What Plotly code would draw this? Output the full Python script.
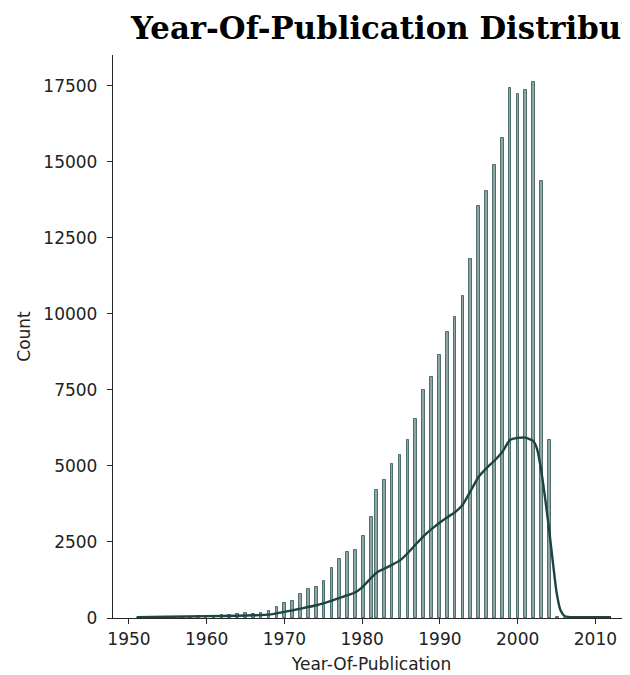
import plotly.graph_objects as go

# ---- data ----
years = list(range(1951, 2013))
counts = [13, 11, 15, 17, 22, 26, 29, 37, 60, 75, 70, 85, 100, 140, 150, 140, 160, 230,
          373, 505, 560, 790, 966, 1032, 1220, 1635, 1932, 2175, 2240, 2712,
          3316, 4199, 4521, 5068, 5343, 5842, 6529, 7492, 7937, 8660, 9389, 9906,
          10602, 11796, 13546, 14030, 14890, 15766, 17431, 17234, 17359, 17628, 14359, 5839,
          46, 3, 0, 1, 0, 2, 2, 1]
n_bins = 181  # histogram bin count over the data range

kde_years = [1951, 1955, 1960, 1964, 1966, 1968, 1970, 1972, 1974, 1976, 1978, 1979, 1980,
             1981, 1982, 1983, 1984, 1985, 1986, 1987, 1988, 1989, 1990, 1991, 1992, 1993,
             1994, 1995, 1996, 1997, 1998, 1999, 2000, 2001, 2002, 2002.5, 2003, 2003.5,
             2004, 2004.5, 2005, 2005.5, 2006, 2006.5, 2007, 2012]
kde_counts = [30, 40, 60, 75, 90, 110, 200, 305, 410, 560, 740, 830, 1010,
              1280, 1520, 1640, 1770, 1920, 2170, 2450, 2720, 2940, 3140, 3320, 3490, 3750,
              4200, 4650, 4930, 5170, 5450, 5850, 5920, 5930, 5820, 5550, 4900, 4000,
              3000, 1900, 850, 260, 70, 35, 25, 25]

y_ticks = [0, 2500, 5000, 7500, 10000, 12500, 15000, 17500]
x_ticks = [1950, 1960, 1970, 1980, 1990, 2000, 2010]

# ---- histogram binning (like numpy bins over [min, max]) ----
present = [y for y, c in zip(years, counts) if c > 0]
lo, hi = min(present), max(present)
bw = (hi - lo) / n_bins
bin_x, bin_y = [], []
for y, c in zip(years, counts):
    if c <= 0:
        continue
    k = min(((y - lo) * n_bins) // (hi - lo), n_bins - 1)
    bin_x.append(lo + (k + 0.5) * bw)
    bin_y.append(c)

BASE = "31,74,71"
fig = go.Figure()
fig.add_trace(go.Bar(
    x=bin_x, y=bin_y, width=bw,
    marker=dict(color=f"rgba({BASE},0.5)", line=dict(color=f"rgba({BASE},0.72)", width=1)),
    showlegend=False,
))
fig.add_trace(go.Scatter(
    x=kde_years, y=kde_counts, mode="lines",
    line=dict(color="#1c4542", width=2.4, shape="spline", smoothing=0.5),
    showlegend=False,
))

ymax = max(counts) * 1.05
xr0 = lo - 0.05 * (hi - lo)

# page has an 8px body margin; figure sized to fill the rest of the window
W, H = 622, 667
fig.update_layout(
    width=W, height=H,
    margin=dict(l=105, r=0, t=47, b=57),
    paper_bgcolor="white", plot_bgcolor="white",
    bargap=0,
    title=dict(
        text="Year-Of-Publication Distribution",
        font=dict(family="DejaVu Serif", size=30.8, color="black", weight="bold"),
        x=123 / W, xanchor="left", xref="container",
        y=1 - 20 / H, yanchor="middle", yref="container",
    ),
    font=dict(family="DejaVu Sans", size=17, color="#222222"),
    xaxis=dict(
        range=[xr0, 2014.45],
        tickmode="array", tickvals=x_ticks, ticktext=[str(v) for v in x_ticks],
        ticks="outside", ticklen=5, tickwidth=1.2, tickcolor="#262626",
        showline=True, linecolor="#262626", linewidth=1.3,
        showgrid=False, zeroline=False,
        title=dict(text="Year-Of-Publication", font=dict(size=17), standoff=10),
        tickfont=dict(size=17),
    ),
    yaxis=dict(
        range=[0, ymax],
        tickmode="array", tickvals=y_ticks, ticktext=[str(v) for v in y_ticks],
        ticks="outside", ticklen=5, tickwidth=1.2, tickcolor="#262626",
        showline=True, linecolor="#262626", linewidth=1.3,
        showgrid=False, zeroline=False,
        ticklabelstandoff=6,
        title=dict(text="Count", font=dict(size=17), standoff=8),
        tickfont=dict(size=17),
    ),
)

fig.write_html("out.html")
